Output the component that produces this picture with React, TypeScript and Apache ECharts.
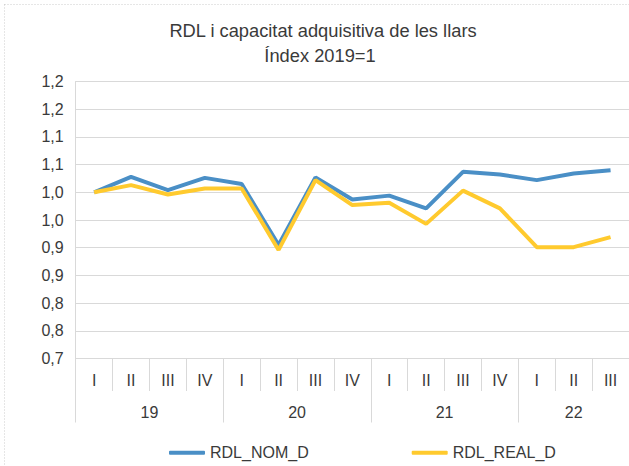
import React, { useEffect, useRef } from "react";
import * as echarts from "echarts";

const quarterLabels = ["I", "II", "III", "IV", "I", "II", "III", "IV", "I", "II", "III", "IV", "I", "II", "III"];
const yearLabels = ["19", "20", "21", "22"];
const quartersPerYear = [4, 4, 4, 3];
const nomValues = [1.0, 1.028, 1.004, 1.026, 1.015, 0.905, 1.027, 0.987, 0.994, 0.971, 1.037, 1.032, 1.022, 1.034, 1.04];
const realValues = [1.0, 1.013, 0.996, 1.007, 1.007, 0.896, 1.022, 0.977, 0.981, 0.943, 1.003, 0.971, 0.901, 0.901, 0.919];
const seriesNames = ["RDL_NOM_D", "RDL_REAL_D"];
const titleLines = ["RDL i capacitat adquisitiva de les llars", "Índex 2019=1"];

const FONT = "'Liberation Sans', Arial, sans-serif";
const TEXT = "#3a3a3a";
const GRID = "#d9d9d9";

export default function App() {
  const ref = useRef<HTMLDivElement>(null);
  useEffect(() => {
    if (!ref.current) return;
    const chart = echarts.init(ref.current, undefined, { renderer: "svg" });
    const yearStarts: number[] = [];
    const yearMids: number[] = [];
    let acc = 0;
    quartersPerYear.forEach((n) => {
      yearStarts.push(acc);
      yearMids.push(acc + n / 2);
      acc += n;
    });
    const fmtY = (v: number) => {
      const r = Math.round(Math.round(v * 100) / 10) / 10;
      return r.toFixed(1).replace(".", ",");
    };
    chart.setOption({
      animation: false,
      backgroundColor: "#ffffff",
      textStyle: { fontFamily: FONT },
      graphic: [
        {
          type: "rect",
          shape: { x: 4.5, y: 4.5, width: 1000, height: 1000 },
          style: { fill: "none", stroke: "#cccccc", lineWidth: 1, lineDash: [1, 2] },
          silent: true,
        },
        {
          type: "text",
          x: 323,
          y: 30,
          style: { text: titleLines[0], align: "center", verticalAlign: "middle", font: `18.3px ${FONT}`, fill: TEXT },
        },
        {
          type: "text",
          x: 320,
          y: 55,
          style: { text: titleLines[1], align: "center", verticalAlign: "middle", font: `18.3px ${FONT}`, fill: TEXT },
        },
      ],
      grid: { left: 75.7, right: 0, top: 81.5, bottom: 107.5, containLabel: false },
      legend: [
        {
          data: [seriesNames[0]],
          left: 169,
          top: 443.7,
          padding: 0,
          icon: "roundRect",
          itemWidth: 36,
          itemHeight: 4,
          textStyle: { fontSize: 16, color: TEXT, lineHeight: 18, fontFamily: FONT },
        },
        {
          data: [seriesNames[1]],
          left: 411.7,
          top: 443.7,
          padding: 0,
          icon: "roundRect",
          itemWidth: 36,
          itemHeight: 4,
          textStyle: { fontSize: 16, color: TEXT, lineHeight: 18, fontFamily: FONT },
        },
      ],
      xAxis: [
        {
          type: "category",
          data: quarterLabels,
          position: "bottom",
          boundaryGap: true,
          axisLine: { show: true, lineStyle: { color: GRID, width: 1 } },
          axisTick: { show: true, interval: 0, length: 32.5, lineStyle: { color: GRID } },
          axisLabel: { interval: 0, margin: 13.5, fontSize: 16, lineHeight: 16, color: TEXT, fontFamily: FONT },
          splitLine: { show: false },
        },
        {
          type: "value",
          min: 0,
          max: 15,
          position: "bottom",
          axisLine: { show: false },
          splitLine: { show: false },
          axisTick: { show: true, length: 64, lineStyle: { color: GRID }, customValues: yearStarts },
          axisLabel: {
            show: true,
            margin: 45.5,
            fontSize: 16,
            lineHeight: 16,
            color: TEXT,
            fontFamily: FONT,
            customValues: yearMids,
            formatter: (v: number) => {
              const i = yearMids.findIndex((m) => Math.abs(m - v) < 1e-6);
              return i >= 0 ? yearLabels[i] : "";
            },
          },
        },
      ],
      yAxis: {
        type: "value",
        min: 0.7,
        max: 1.2,
        interval: 0.05,
        axisLine: { show: true, lineStyle: { color: GRID, width: 1 } },
        axisTick: { show: false },
        splitLine: { show: true, lineStyle: { color: GRID, width: 1 } },
        axisLabel: { margin: 12, fontSize: 16, color: TEXT, fontFamily: FONT, formatter: fmtY },
      },
      series: [
        {
          name: seriesNames[0],
          type: "line",
          data: nomValues,
          xAxisIndex: 0,
          symbol: "none",
          lineStyle: { width: 4, color: "#4a8fc6" },
          itemStyle: { color: "#4a8fc6" },
        },
        {
          name: seriesNames[1],
          type: "line",
          data: realValues,
          xAxisIndex: 0,
          symbol: "none",
          lineStyle: { width: 4, color: "#ffca2e" },
          itemStyle: { color: "#ffca2e" },
        },
      ],
    });
    return () => chart.dispose();
  }, []);
  return <div ref={ref} style={{ position: "fixed", left: 0, top: 0, width: 629, height: 466 }} />;
}
